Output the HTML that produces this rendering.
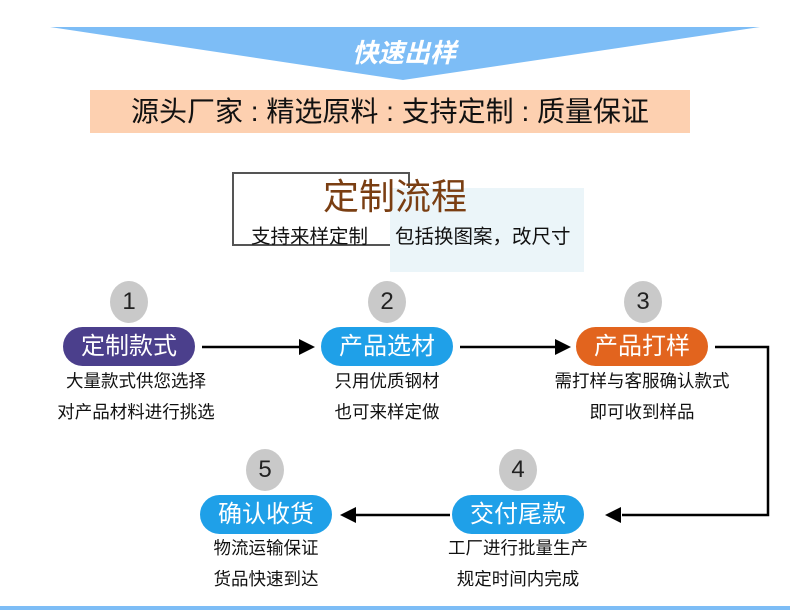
<!DOCTYPE html>
<html><head><meta charset="utf-8"><style>
body{margin:0;width:790px;height:612px;background:#fff;position:relative;overflow:hidden;font-family:"Liberation Sans","Noto Sans CJK SC",sans-serif;}
.a{position:absolute;}
.c{position:absolute;width:38px;height:42px;border-radius:50%;background:#c9c9c9;color:#222;font-size:24px;text-align:center;line-height:42px;}
.p{position:absolute;width:132px;height:39px;border-radius:20px;color:#fff;font-size:24px;text-align:center;line-height:39px;}
.t{position:absolute;width:240px;text-align:center;font-size:17.5px;color:#111;line-height:31px;}
</style></head><body>
<svg class="a" style="left:0;top:0" width="790" height="612">
<polygon points="50,27 760,27 403,80" fill="#7dbdf6"/>
<rect x="90" y="90" width="600" height="43" fill="#fdd0b0"/>
<rect x="233" y="173" width="176" height="72" fill="none" stroke="#555" stroke-width="2"/>
<rect x="390" y="188" width="194" height="84" fill="#ebf5f9"/>
<g stroke="#000" stroke-width="2.5" fill="none">
<line x1="202" y1="347" x2="302" y2="347"/>
<line x1="460" y1="347" x2="558" y2="347"/>
<polyline points="715,347 768,347 768,515 622,515"/>
<line x1="450" y1="515" x2="356" y2="515"/>
</g>
<g fill="#000">
<polygon points="315,347 299,339 299,355"/>
<polygon points="571,347 555,339 555,355"/>
<polygon points="605,515 621,507 621,523"/>
<polygon points="340,515 356,507 356,523"/>
</g>
<rect x="0" y="606" width="790" height="4" fill="#7dbdf6"/>
</svg>
<div class="a" style="left:290px;top:33px;width:228px;text-align:center;color:#fff;font-size:26px;font-weight:bold;font-style:italic;">快速出样</div>
<div class="a" style="left:90px;top:92px;width:600px;text-align:center;font-size:28px;color:#111;line-height:40px;">源头厂家 : 精选原料 : 支持定制 : 质量保证</div>
<div class="a" style="left:295px;top:173px;width:200px;text-align:center;font-size:36px;color:#7a3e12;line-height:48px;">定制流程</div>
<div class="a" style="left:251px;top:220px;font-size:19.5px;color:#111;">支持来样定制</div>
<div class="a" style="left:395px;top:220px;font-size:19.5px;color:#111;">包括换图案，改尺寸</div>
<div class="c" style="left:110px;top:281px;">1</div>
<div class="c" style="left:368px;top:281px;">2</div>
<div class="c" style="left:624px;top:281px;">3</div>
<div class="c" style="left:499px;top:449px;">4</div>
<div class="c" style="left:246px;top:449px;">5</div>
<div class="p" style="left:63px;top:327px;background:#4b3f8c;">定制款式</div>
<div class="p" style="left:321px;top:327px;background:#1fa0e8;">产品选材</div>
<div class="p" style="left:576px;top:327px;background:#e2641e;">产品打样</div>
<div class="p" style="left:452px;top:495px;background:#1fa0e8;">交付尾款</div>
<div class="p" style="left:200px;top:495px;background:#1fa0e8;">确认收货</div>
<div class="t" style="left:16px;top:366px;">大量款式供您选择<br>对产品材料进行挑选</div>
<div class="t" style="left:267px;top:366px;">只用优质钢材<br>也可来样定做</div>
<div class="t" style="left:522px;top:366px;">需打样与客服确认款式<br>即可收到样品</div>
<div class="t" style="left:398px;top:533px;">工厂进行批量生产<br>规定时间内完成</div>
<div class="t" style="left:146px;top:533px;">物流运输保证<br>货品快速到达</div>
</body></html>
